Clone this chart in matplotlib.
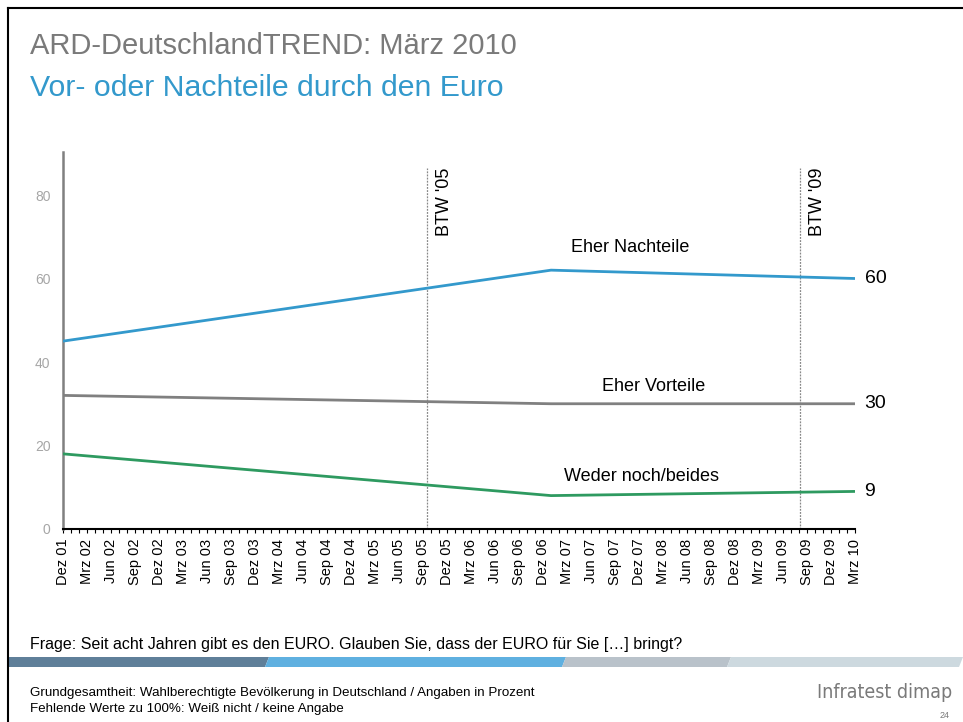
import matplotlib
matplotlib.use("Agg")
import matplotlib.pyplot as plt
from matplotlib.patches import Polygon
from matplotlib.ticker import FixedLocator, MultipleLocator
from matplotlib import font_manager

plt.rcParams['font.family'] = ['Liberation Sans', 'DejaVu Sans']

# ---- data ----
tick_labels = ["Dez 01", "Mrz 02", "Jun 02", "Sep 02", "Dez 02", "Mrz 03", "Jun 03", "Sep 03",
               "Dez 03", "Mrz 04", "Jun 04", "Sep 04", "Dez 04", "Mrz 05", "Jun 05", "Sep 05",
               "Dez 05", "Mrz 06", "Jun 06", "Sep 06", "Dez 06", "Mrz 07", "Jun 07", "Sep 07",
               "Dez 07", "Mrz 08", "Jun 08", "Sep 08", "Dez 08", "Mrz 09", "Jun 09", "Sep 09",
               "Dez 09", "Mrz 10"]
survey_dates = [(2001, 12), (2007, 1), (2010, 3)]
nachteile = [45, 62, 60]
vorteile = [32, 30, 30]
weder = [18, 8, 9]
series_names = ["Eher Nachteile", "Eher Vorteile", "Weder noch/beides"]
end_values = ["60", "30", "9"]
elections = [("BTW '05", (2005, 9.5)), ("BTW '09", (2009, 8.1))]


def month_index(year, month):
    return (year - 2001) * 12 + (month - 12)


W, H = 963, 722
fig = plt.figure(figsize=(W / 100, H / 100), dpi=100)


def fx(px):
    return px / W


def fy(py):
    return 1 - py / H


# slide border
fig.add_artist(plt.Line2D([fx(8), fx(8)], [fy(8), fy(722)], color='black', lw=1.5))
fig.add_artist(plt.Line2D([fx(8), fx(963)], [fy(8), fy(8)], color='black', lw=1.5))

# titles
fig.text(fx(30), fy(46), "ARD-DeutschlandTREND: März 2010", color='#7a7a7a', fontsize=21,
         va='center', ha='left')
fig.text(fx(30), fy(88), "Vor- oder Nachteile durch den Euro", color='#3399cc', fontsize=21.8,
         va='center', ha='left')

# axes
ax = fig.add_axes([fx(63), fy(529), fx(855) - fx(63), fy(152) - fy(529)])
x = [month_index(y, m) for y, m in survey_dates]
colors = ['#3399cc', '#808080', '#2e9a60']
for vals, c in zip([nachteile, vorteile, weder], colors):
    ax.plot(x, vals, color=c, lw=2, solid_capstyle='butt', zorder=3)

ax.set_xlim(0, 99)
ax.set_ylim(0, 90.3)

for lab, (yy, mm) in elections:
    xe = (yy - 2001) * 12 + (mm - 12)
    ax.plot([xe, xe], [0, 86.5], color='#888888', lw=0.9, ls=(0, (1.5, 1)), zorder=2)
    ax.text(xe + 1.1, 86.6, lab, rotation=90, ha='left', va='top', fontsize=13, color='black')

# series labels
ax.text(70.9, 67.5, series_names[0], ha='center', va='center', fontsize=13)
ax.text(73.8, 34.2, series_names[1], ha='center', va='center', fontsize=13)
ax.text(72.3, 12.6, series_names[2], ha='center', va='center', fontsize=13)
for v, s in zip([nachteile[-1], vorteile[-1], weder[-1]], end_values):
    ax.text(100.2, v, s, ha='left', va='center', fontsize=14, clip_on=False)

# ticks
major = [3 * i for i in range(len(tick_labels))]
ax.xaxis.set_major_locator(FixedLocator(major))
ax.set_xticklabels(tick_labels, rotation=90, fontsize=10.5)
ax.xaxis.set_minor_locator(MultipleLocator(1))
ax.tick_params(axis='x', which='both', direction='out', length=3, width=0.8, color='black', pad=4)
ax.set_yticks([0, 20, 40, 60, 80])
ax.tick_params(axis='y', length=0, labelsize=10, labelcolor='#a6a6a6', pad=9)

for s in ['top', 'right']:
    ax.spines[s].set_visible(False)
ax.spines['left'].set_color('#808080')
ax.spines['left'].set_linewidth(1.8)
ax.spines['bottom'].set_color('black')
ax.spines['bottom'].set_linewidth(1.5)
ax.patch.set_alpha(0)

# footer
fig.text(fx(30), fy(645), "Frage: Seit acht Jahren gibt es den EURO. Glauben Sie, dass der EURO für Sie […] bringt?",
         fontsize=11.5, va='center', ha='left')

band = [((9, 269), '#5f7f99'), ((269, 566), '#5fb0e0'), ((566, 731), '#b9c2ca'), ((731, 963), '#cdd9df')]
y0, y1 = 657, 667
for i, ((a, b), c) in enumerate(band):
    pts = [(fx(a), fy(y0)), (fx(b), fy(y0)), (fx(b - 4), fy(y1)), (fx(a - 4 if i > 0 else a), fy(y1))]
    fig.add_artist(Polygon(pts, closed=True, facecolor=c, edgecolor='none', transform=fig.transFigure))

fig.text(fx(30), fy(693), "Grundgesamtheit: Wahlberechtigte Bevölkerung in Deutschland / Angaben in Prozent",
         fontsize=9.6, va='center', ha='left')
fig.text(fx(30), fy(709), "Fehlende Werte zu 100%: Weiß nicht / keine Angabe",
         fontsize=9.6, va='center', ha='left')

names = {f.name for f in font_manager.fontManager.ttflist}
if 'DejaVu Sans Condensed' in names:
    logo_kw = dict(family='DejaVu Sans Condensed', fontweight='light', fontsize=16)
else:
    logo_kw = dict(family='DejaVu Sans', fontweight='light', fontstretch='condensed', fontsize=14)
fig.text(fx(952), fy(692), "Infratest dimap", color='#7a7a7a', ha='right', va='center', **logo_kw)
fig.text(fx(945), fy(716), "24", fontsize=6.5, color='#7a7a7a', ha='center', va='center')

fig.savefig("out.png", dpi=100)
